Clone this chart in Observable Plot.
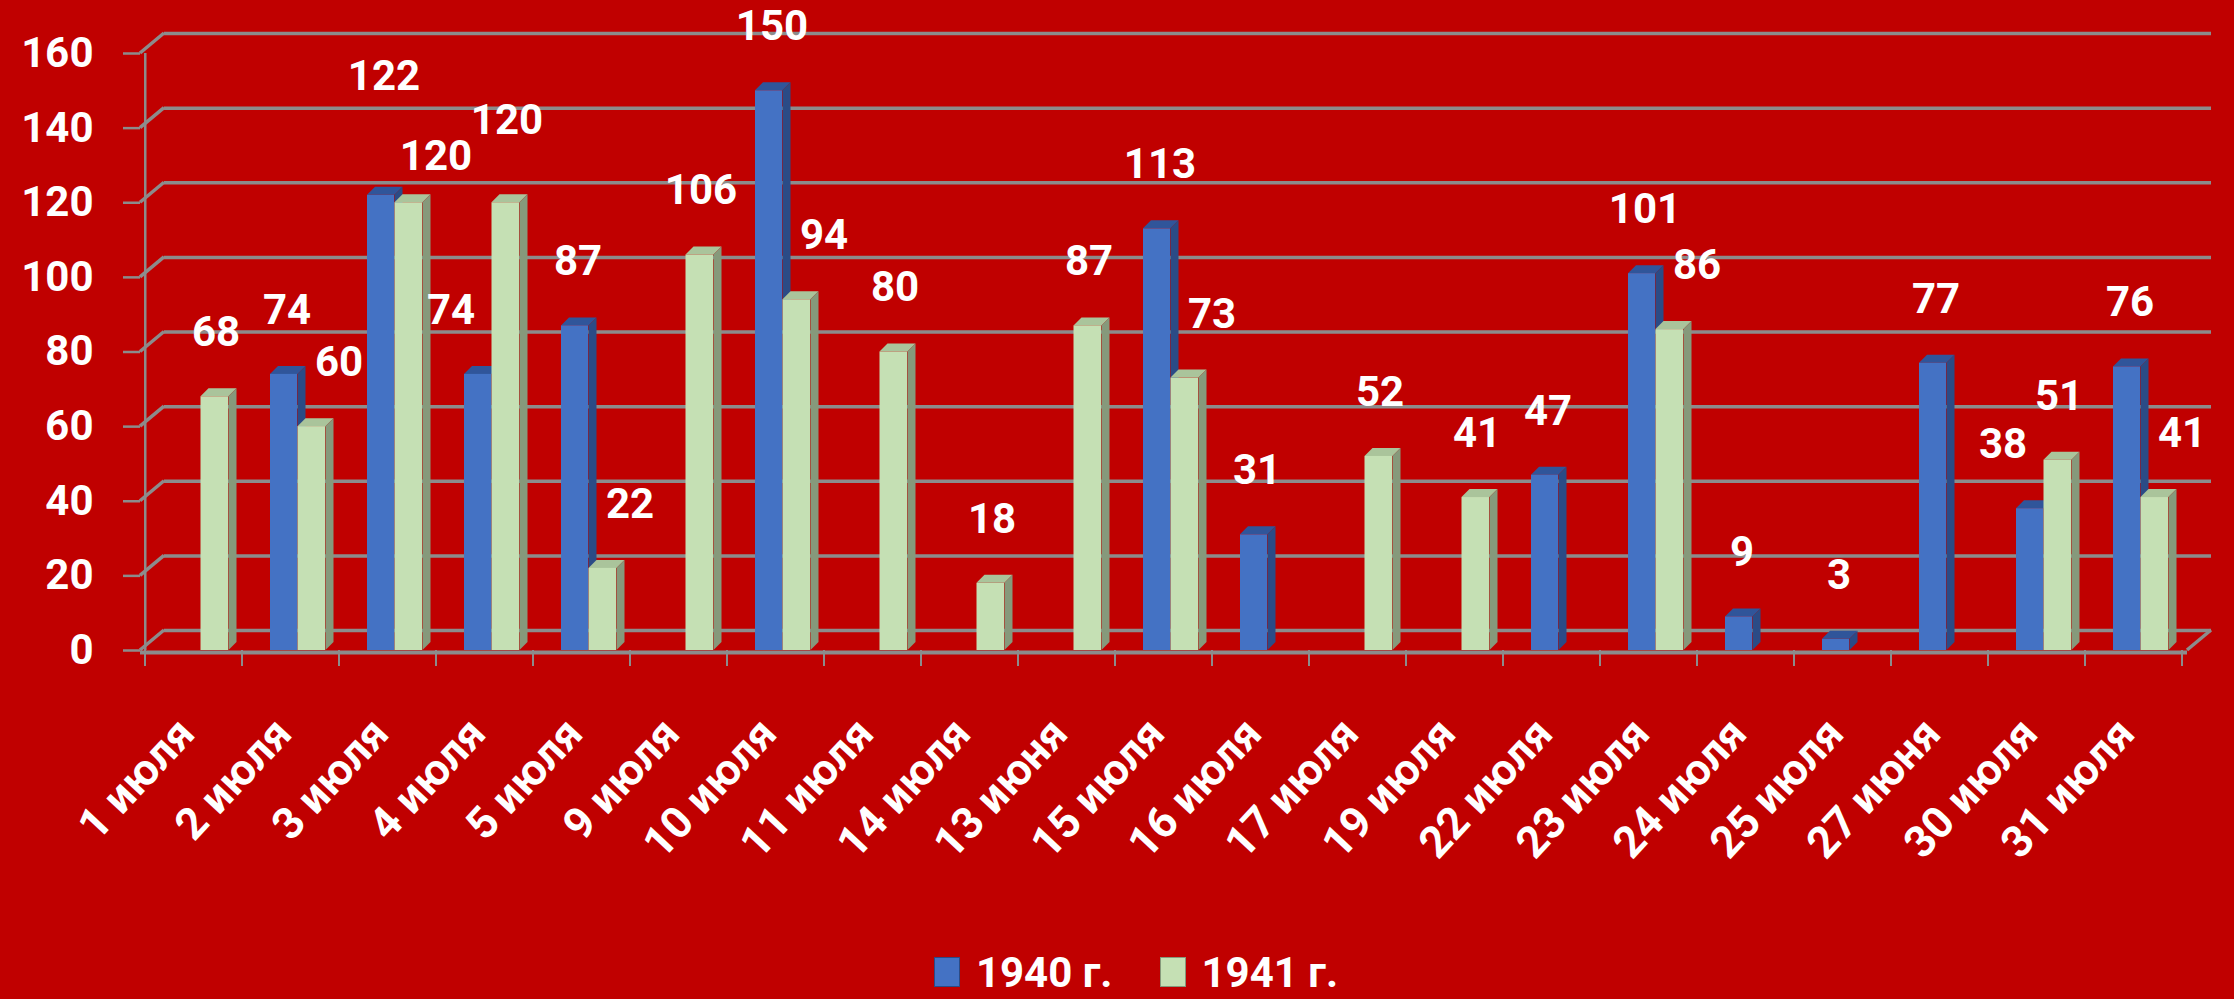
<!DOCTYPE html>
<html>
<head>
<meta charset="utf-8">
<script src="https://cdn.jsdelivr.net/npm/d3@7"></script>
<script src="https://cdn.jsdelivr.net/npm/@observablehq/plot@0.6"></script>
<style>
  html, body { margin: 0; padding: 0; background: #c00000; width: 2234px; height: 999px; overflow: hidden; }
  body { font-family: Roboto, "DejaVu Sans", sans-serif; }
  #chart svg { display: block; }
  #legend { height: 54px; display: flex; justify-content: center; align-items: center; color: #fff; font-weight: 700; font-size: 42px; padding-left: 38px; box-sizing: border-box; }
  #legend .item { display: flex; align-items: center; }
  #legend .item + .item { margin-left: 47px; }
  #legend .sw { width: 26px; height: 30px; margin-right: 16px; box-sizing: border-box; }
</style>
</head>
<body>
<div id="chart"></div>
<div id="legend"></div>
<script>
// ---- data ----
const categories = ["1 июля","2 июля","3 июля","4 июля","5 июля","9 июля","10 июля","11 июля","14 июля","13 июня","15 июля","16 июля","17 июля","19 июля","22 июля","23 июля","24 июля","25 июля","27 июня","30 июля","31 июля"];
const values1940 = [null,74,122,74,87,null,150,null,null,null,113,31,null,null,47,101,9,3,77,38,76];
const values1941 = [68,60,120,120,22,106,94,80,18,87,73,null,52,41,null,86,null,null,null,51,41];
const seriesNames = ["1940 г.","1941 г."];
const yTicks = [0,20,40,60,80,100,120,140,160];

// ---- styling ----
const W = 2234, H = 945;
const mL = 140, mR = 47, mT = 53, mB = H - 650;
const bw = (W - mL - mR) / categories.length;
const pxPerUnit = (H - mB - mT) / 160;
const GRID = "#8c8c8c";
const D = 8;                    // 3D depth of bars
const BX = 24, BY = 20;         // back-wall offset of gridlines
const FONT = "Roboto, 'DejaVu Sans', sans-serif";
const FS = 42;
const colors = {
  "1940": {front: "#4472c4", top: "#30559a", side: "#2b4b86", left: 28, right: 55.5, ldx: -4},
  "1941": {front: "#c5e0b4", top: "#aac49b", side: "#86997b", left: 55.5, right: 83.5, ldx: 22}
};

const rows40 = categories.map((c, i) => ({date: c, i, value: values1940[i], other: values1941[i]})).filter(d => d.value != null);
const rows41 = categories.map((c, i) => ({date: c, i, value: values1941[i], other: values1940[i]})).filter(d => d.value != null);

function faces(rows, s) {
  return (index, {x, y}) => {
    const g = d3.create("svg:g");
    for (const d of rows) {
      const xa = x(d.date) + s.left, xb = x(d.date) + s.right, yt = y(d.value), yb = y(0);
      g.append("path").attr("d", `M${xa},${yt}L${xa + D},${yt - D}L${xb + D},${yt - D}L${xb},${yt}Z`).attr("fill", s.top);
      g.append("path").attr("d", `M${xb},${yt}L${xb + D},${yt - D}L${xb + D},${yb - D}L${xb},${yb}Z`).attr("fill", s.side);
    }
    return g.node();
  };
}

function decor(index, {x, y}, values, dims) {
  const g = d3.create("svg:g").attr("stroke", GRID).attr("fill", "none");
  const x0 = dims.marginLeft, x1 = dims.width - dims.marginRight;
  for (const t of yTicks) {
    g.append("line").attr("x1", x0).attr("y1", y(t)).attr("x2", x0 + BX).attr("y2", y(t) - BY).attr("stroke-width", 3.5);
  }
  g.append("line").attr("x1", x1).attr("y1", y(0)).attr("x2", x1 + BX).attr("y2", y(0) - BY).attr("stroke-width", 3.5);
  const w = x.bandwidth();
  for (let i = 0; i <= categories.length; i++) {
    const px = i < categories.length ? x(categories[i]) : x(categories[i - 1]) + w;
    g.append("line").attr("x1", px).attr("y1", y(0)).attr("x2", px).attr("y2", y(0) + 16).attr("stroke-width", 2);
  }
  return g.node();
}

// category tick labels, rotated
function xLabels(index, {x, y}) {
  const g = d3.create("svg:g").attr("fill", "white").attr("font-size", FS + 2).attr("font-weight", "bold")
    .attr("font-family", FONT).attr("text-anchor", "end");
  const w = x.bandwidth();
  for (const c of categories) {
    g.append("text")
      .attr("transform", `translate(${x(c) + w / 2 - 8},${y(0) + 75}) rotate(-47)`)
      .attr("dy", "0.35em")
      .text(c);
  }
  return g.node();
}

// label placement: shorter bar of a pair moves outward, near-equal pair raises the taller label,
// then overlapping labels are pushed apart vertically
const labels = [];
for (const [series, rows] of [["1940", rows40], ["1941", rows41]]) {
  for (const d of rows) {
    let dx = colors[series].ldx, dy = -64;
    if (d.other != null) {
      if (d.value < d.other) dx += series === "1940" ? -30 : 26;
      if (Math.abs(d.value - d.other) < 10 && d.value > d.other) dy -= 55;
    }
    const text = String(d.value);
    labels.push({...d, series, text, dx, dy,
      cx: mL + (d.i + 0.5) * bw + dx, w: text.length * 0.6 * FS + 6});
  }
}
const LH = 36;
for (const a of labels) for (const b of labels) {
  if (a === b || a.cx >= b.cx) continue;
  const ya = (H - mB) - a.value * pxPerUnit + a.dy, yb = (H - mB) - b.value * pxPerUnit + b.dy;
  const overlapX = (a.w + b.w) / 2 - (b.cx - a.cx);
  const dyy = Math.abs(ya - yb);
  if (overlapX > 0 && dyy < LH) {
    const push = (LH - dyy) / 2;
    a.dy += push; b.dy -= push;
  }
}
const labelGroups = d3.groups(labels, d => d.dx + "," + d.dy);
const labelMarks = labelGroups.map(([, rows]) => Plot.text(rows, {
  x: "date", y: "value", text: "text", dx: rows[0].dx, dy: rows[0].dy,
  fill: "white", fontSize: FS, fontWeight: "bold", fontFamily: FONT
}));

const chart = Plot.plot({
  width: W, height: H,
  marginLeft: mL, marginRight: mR, marginTop: mT, marginBottom: mB,
  style: {background: "transparent", fontFamily: FONT},
  x: {type: "band", domain: categories, padding: 0, axis: null},
  y: {domain: [0, 160], axis: null},
  marks: [
    Plot.ruleY(yTicks, {dx: BX, dy: -BY, stroke: GRID, strokeWidth: 3.5}),
    decor,
    Plot.ruleX([categories[0]], {y1: 0, y2: 160, dx: -bw / 2, stroke: GRID, strokeWidth: 2.5}),
    Plot.axisY({ticks: yTicks, tickSize: 17, tickPadding: 30, fontSize: FS, fontWeight: "bold", fill: "white", stroke: GRID, strokeWidth: 2.5, label: null, fontFamily: FONT}),
    faces(rows40, colors["1940"]),
    Plot.barY(rows40, {x: "date", y: "value", fill: colors["1940"].front, insetLeft: colors["1940"].left, insetRight: bw - colors["1940"].right}),
    faces(rows41, colors["1941"]),
    Plot.barY(rows41, {x: "date", y: "value", fill: colors["1941"].front, insetLeft: colors["1941"].left, insetRight: bw - colors["1941"].right}),
    Plot.ruleY([0], {dy: 2, stroke: GRID, strokeWidth: 4}),
    ...labelMarks,
    xLabels
  ]
});
document.getElementById("chart").appendChild(chart);

const legend = document.getElementById("legend");
seriesNames.forEach((name, i) => {
  const s = colors[i === 0 ? "1940" : "1941"];
  const item = document.createElement("div");
  item.className = "item";
  const sw = document.createElement("div");
  sw.className = "sw";
  sw.style.background = s.front;
  sw.style.border = "1px solid " + s.side;
  const t = document.createElement("span");
  t.textContent = name;
  item.appendChild(sw); item.appendChild(t);
  legend.appendChild(item);
});
</script>
</body>
</html>
